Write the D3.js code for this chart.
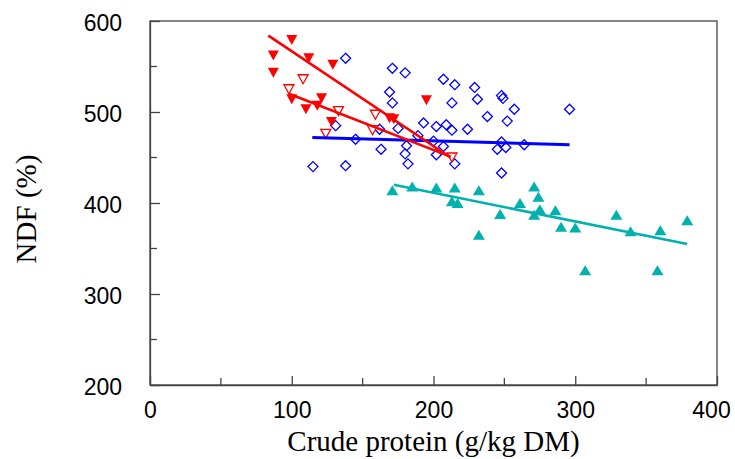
<!DOCTYPE html>
<html>
<head>
<meta charset="utf-8">
<script src="https://cdn.jsdelivr.net/npm/d3@7"></script>
<style>
  body { margin: 0; background: #fff; }
  svg { display: block; }
</style>
</head>
<body>
<div id="chart"></div>
<script>
// crude protein (g/kg DM) vs NDF (%)

// red, filled down-triangles
var redFilledCP  = [87, 87, 100, 112, 129, 100, 110, 121, 118, 128, 169, 172, 195];
var redFilledNDF = [562, 543, 579, 559, 552, 514, 503, 515, 507, 489, 493, 492, 513];

// red, open down-triangles
var redOpenCP  = [98, 108, 133, 124, 159, 157, 213];
var redOpenNDF = [525, 536, 501, 476, 497, 480, 450];

// blue, open diamonds
var blueCP  = [138, 171, 180, 169, 171, 131, 145, 162, 163, 175, 115, 138, 181, 180, 182,
               189, 193, 207, 215, 213, 202, 209, 213, 224, 200, 207, 202, 215, 229, 231,
               238, 248, 249, 257, 252, 248, 245, 251, 264, 248, 296];
var blueNDF = [559, 548, 543, 522, 510, 485, 470, 481, 459, 482, 440, 441, 463, 454, 443,
               474, 488, 536, 530, 510, 484, 486, 480, 481, 468, 462, 453, 443, 527, 514,
               495, 518, 515, 503, 490, 467, 459, 461, 464, 433, 503];

// cyan, filled up-triangles
var cyanCP  = [171, 185, 202, 215, 213, 217, 232, 232, 247, 261, 271, 274, 275, 271, 286,
               290, 300, 307, 329, 339, 360, 358, 379];
var cyanNDF = [414, 418, 417, 417, 402, 400, 414, 365, 388, 400, 418, 407, 393, 387, 392,
               374, 373, 326, 387, 369, 370, 326, 381];

// fitted lines: [cp1, ndf1, cp2, ndf2]
var fitRedFilled = [83.5, 584, 212, 450];
var fitRedOpen   = [98, 520, 212, 451];
var fitBlue      = [114.5, 472, 296, 464];
var fitCyan      = [172, 420, 379, 355];

var xTicks = [0, 100, 200, 300, 400];
var yTicks = [200, 300, 400, 500, 600];

var width = 735, height = 459;
var margin = { top: 21, right: 18, bottom: 74, left: 150 };
var innerW = width - margin.left - margin.right;
var innerH = height - margin.top - margin.bottom;

var red = "#ff0000", blue = "#0000ff", cyan = "#00b1ad", axisCol = "#444";

var svg = d3.select("#chart").append("svg")
  .attr("width", width)
  .attr("height", height);

var g = svg.append("g")
  .attr("transform", "translate(" + margin.left + "," + margin.top + ")");

var x = d3.scaleLinear().domain([0, 400]).range([0, innerW]);
var y = d3.scaleLinear().domain([200, 600]).range([innerH, 0]);

// frame
g.append("rect")
  .attr("width", innerW)
  .attr("height", innerH)
  .attr("fill", "none")
  .attr("stroke", axisCol)
  .attr("stroke-width", 1.3);

// minor ticks (inside)
var xMinor = d3.range(50, 400, 100), yMinor = d3.range(250, 600, 100);
g.selectAll(".xminor").data(xMinor).enter().append("line")
  .attr("x1", d => x(d)).attr("x2", d => x(d))
  .attr("y1", innerH).attr("y2", innerH - 7)
  .attr("stroke", axisCol).attr("stroke-width", 1.3);
g.selectAll(".yminor").data(yMinor).enter().append("line")
  .attr("y1", d => y(d)).attr("y2", d => y(d))
  .attr("x1", 0).attr("x2", 7)
  .attr("stroke", axisCol).attr("stroke-width", 1.3);

// axes
var xAxis = g.append("g")
  .attr("transform", "translate(0," + innerH + ")")
  .call(d3.axisBottom(x).tickValues(xTicks).tickSizeInner(-9).tickSizeOuter(0).tickPadding(28));
var yAxis = g.append("g")
  .call(d3.axisLeft(y).tickValues(yTicks).tickSizeInner(-10).tickSizeOuter(0).tickPadding(28));

[xAxis, yAxis].forEach(function(a) {
  a.select(".domain").attr("stroke", axisCol).attr("stroke-width", 1.3);
  a.selectAll(".tick line").attr("stroke", axisCol).attr("stroke-width", 1.3);
  a.selectAll("text")
    .attr("fill", "#000")
    .style("font-family", "Arial, 'Liberation Sans', sans-serif")
    .style("font-size", "23px");
});
xAxis.selectAll("text").attr("dy", "0.2em");
// last label sits a little left so it stays inside the picture
xAxis.selectAll("text").filter(d => d === 400).attr("dx", -6);
yAxis.selectAll("text").attr("dy", "0.42em");

// markers
function downTri(w, h) {
  return "M" + (-w / 2) + "," + (-h / 2) + "L" + (w / 2) + "," + (-h / 2) + "L0," + (h / 2) + "Z";
}
function upTri(w, h) {
  return "M" + (-w / 2) + "," + (h / 2) + "L" + (w / 2) + "," + (h / 2) + "L0," + (-h / 2) + "Z";
}
function diamond(r) {
  return "M0," + (-r) + "L" + r + ",0L0," + r + "L" + (-r) + ",0Z";
}

g.selectAll(".blue").data(d3.range(blueCP.length)).enter().append("path")
  .attr("transform", i => "translate(" + x(blueCP[i]) + "," + y(blueNDF[i]) + ")")
  .attr("d", diamond(5))
  .attr("fill", "none").attr("stroke", blue).attr("stroke-width", 1.3);

g.selectAll(".redOpen").data(d3.range(redOpenCP.length)).enter().append("path")
  .attr("transform", i => "translate(" + x(redOpenCP[i]) + "," + y(redOpenNDF[i]) + ")")
  .attr("d", downTri(10, 9))
  .attr("fill", "#fff").attr("stroke", red).attr("stroke-width", 1.3);

g.selectAll(".redFilled").data(d3.range(redFilledCP.length)).enter().append("path")
  .attr("transform", i => "translate(" + x(redFilledCP[i]) + "," + y(redFilledNDF[i]) + ")")
  .attr("d", downTri(11, 10))
  .attr("fill", red);

g.selectAll(".cyan").data(d3.range(cyanCP.length)).enter().append("path")
  .attr("transform", i => "translate(" + x(cyanCP[i]) + "," + y(cyanNDF[i]) + ")")
  .attr("d", upTri(12, 10))
  .attr("fill", cyan);

// fitted lines
function fitLine(f, col, w) {
  g.append("line")
    .attr("x1", x(f[0])).attr("y1", y(f[1]))
    .attr("x2", x(f[2])).attr("y2", y(f[3]))
    .attr("stroke", col).attr("stroke-width", w);
}
fitLine(fitBlue, blue, 3);
fitLine(fitCyan, cyan, 2.6);
fitLine(fitRedOpen, red, 2.6);
fitLine(fitRedFilled, red, 2.6);

// axis titles
svg.append("text")
  .attr("x", margin.left + innerW / 2)
  .attr("y", 451)
  .attr("text-anchor", "middle")
  .style("font-family", "'Times New Roman', 'Liberation Serif', serif")
  .style("font-size", "29px")
  .text("Crude protein (g/kg DM)");

svg.append("text")
  .attr("transform", "translate(36," + 209 + ") rotate(-90)")
  .attr("text-anchor", "middle")
  .style("font-family", "'Times New Roman', 'Liberation Serif', serif")
  .style("font-size", "29px")
  .text("NDF (%)");
</script>
</body>
</html>
